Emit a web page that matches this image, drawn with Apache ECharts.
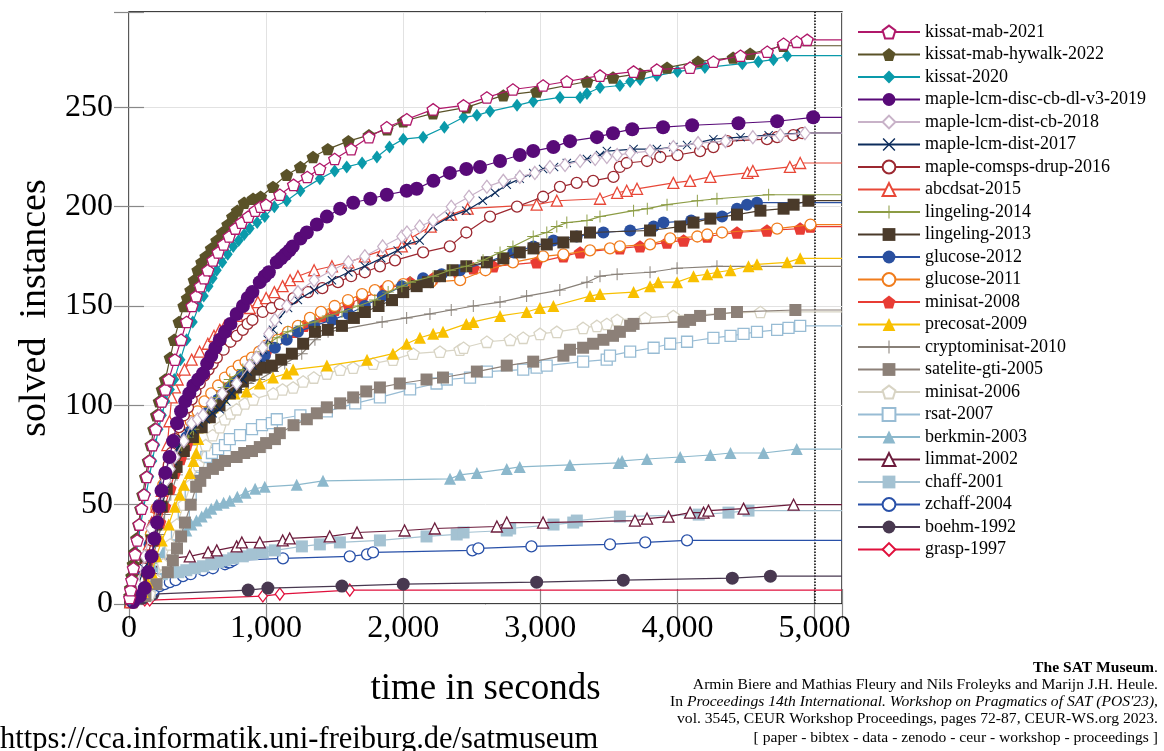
<!DOCTYPE html>
<html>
<head>
<meta charset="utf-8">
<title>SAT Museum</title>
<script src="https://cdn.jsdelivr.net/npm/echarts@6/dist/echarts.min.js"></script>
<style>
  html, body { margin: 0; padding: 0; background: #fff; }
  #chart { width: 1164px; height: 751px; }
</style>
</head>
<body>
<div id="chart"></div>
<script>
// [time in seconds, solved instances]
var kissatMab2021 = [[5,3],[12,7],[20,12],[32,18],[45,25],[60,32],[75,40],[92,48],[110,55],[130,64],[150,72],[172,80],[195,88],[218,95],[240,102],[265,108],[290,113],[335,123],[380,133],[420,142],[460,150],[490,155],[520,160],[548,164],[575,168],[612,173],[650,177],[690,181],[730,185],[775,189],[820,192],[870,195],[920,198],[960,200],[1000,201],[1100,206],[1200,211],[1300,215],[1391,219],[1500,224],[1620,229],[1750,235],[1880,240],[2026,244],[2218,249],[2440,251],[2610,255],[2800,259],[3020,261],[3193,263],[3435,266],[3680,268],[3850,269],[4092,270],[4262,273],[4460,276],[4655,278],[4774,282],[4870,283],[4946,284]];
var kissatMabHywalk2022 = [[5,4],[10,8],[20,14],[30,20],[40,26],[55,33],[70,40],[85,48],[100,55],[120,64],[140,72],[160,80],[180,88],[200,95],[220,102],[242,108],[265,113],[300,124],[330,133],[365,142],[400,150],[425,154],[450,158],[475,163],[502,168],[530,172],[560,175],[600,179],[640,183],[680,187],[720,191],[755,195],[790,198],[840,202],[905,204],[960,205],[1050,210],[1150,216],[1250,220],[1342,225],[1450,229],[1600,233],[1750,236],[1882,239],[2000,243],[2217,247],[2460,250],[2730,256],[2973,258],[3340,263],[3530,265],[3727,267],[3924,270],[4150,273],[4406,275],[4530,277],[4771,281]];
var kissat2020 = [[5,2],[15,7],[25,12],[37,18],[50,24],[67,32],[85,40],[105,48],[125,55],[148,64],[170,72],[192,80],[215,88],[240,95],[265,102],[298,108],[330,113],[375,123],[420,133],[465,142],[510,150],[545,155],[580,160],[610,164],[640,168],[680,172],[720,176],[760,180],[800,183],[840,186],[880,189],[935,192],[990,195],[1060,200],[1150,203],[1250,208],[1392,214],[1500,218],[1588,220],[1700,222],[1808,225],[1900,230],[2000,234],[2145,235],[2300,240],[2440,245],[2537,246],[2633,248],[2830,251],[2948,253],[3143,255],[3290,255],[3340,257],[3435,260],[3580,261],[3655,263],[3728,264],[3850,266],[4000,268],[4200,270],[4473,272],[4590,273],[4700,274],[4800,276]];
var mapleLcmDiscCbDlV3_2019 = [[30,1],[80,4],[115,8],[140,16],[165,24],[185,33],[205,41],[220,49],[237,57],[265,66],[295,74],[322,82],[350,91],[380,97],[410,102],[440,106],[470,110],[505,113],[540,116],[570,121],[600,125],[630,129],[662,133],[700,137],[740,141],[785,146],[831,150],[866,154],[900,157],[954,162],[990,165],[1020,167],[1078,172],[1110,174],[1140,176],[1170,178],[1194,180],[1250,184],[1297,187],[1370,191],[1443,195],[1540,199],[1635,202],[1760,204],[1880,206],[2025,208],[2098,209],[2220,213],[2340,217],[2460,219],[2560,220],[2706,223],[2850,226],[2948,228],[3095,230],[3216,233],[3413,235],[3530,237],[3670,239],[3895,240],[4107,241],[4445,242],[4727,243],[4990,245]];
var mapleLcmDistCb2018 = [[10,2],[60,10],[115,24],[160,38],[210,49],[240,56],[270,62],[300,68],[334,74],[400,82],[457,91],[500,93],[540,95],[600,101],[680,106],[785,111],[880,120],[930,124],[975,129],[1020,136],[1064,143],[1150,150],[1232,157],[1350,163],[1480,168],[1600,172],[1720,175],[1850,180],[1990,185],[2027,187],[2120,190],[2218,193],[2350,200],[2480,205],[2610,210],[2730,213],[2850,215],[2960,217],[3070,220],[3180,221],[3290,223],[3400,224],[3485,225],[3560,226],[3655,227],[3800,228],[3970,230],[4150,232],[4350,233],[4550,235],[4750,236],[4930,237]];
var mapleLcmDist2017 = [[10,2],[60,8],[110,18],[166,24],[190,32],[215,40],[240,49],[261,57],[290,65],[320,72],[350,78],[385,83],[430,86],[466,88],[510,91],[560,93],[610,96],[662,98],[710,102],[750,106],[790,110],[830,113],[865,117],[900,120],[940,124],[975,128],[1012,133],[1050,138],[1085,143],[1160,149],[1232,153],[1350,158],[1480,163],[1600,167],[1720,170],[1840,174],[1960,178],[2027,181],[2120,183],[2218,190],[2340,195],[2460,198],[2580,203],[2670,207],[2755,211],[2850,214],[2948,217],[3020,219],[3100,220],[3193,222],[3340,224],[3435,226],[3485,228],[3680,229],[3850,229],[3970,230],[4070,231],[4262,234],[4460,235],[4665,236],[4900,237]];
var mapleComspsDrup2016 = [[10,2],[40,7],[70,12],[105,18],[137,24],[165,32],[190,40],[215,48],[239,57],[265,64],[290,70],[310,76],[334,83],[365,89],[400,95],[430,99],[457,103],[485,107],[516,111],[548,115],[580,118],[610,121],[640,124],[690,128],[740,132],[785,135],[830,138],[865,141],[900,143],[975,147],[1040,149],[1100,151],[1200,154],[1305,157],[1410,159],[1524,162],[1620,165],[1720,167],[1830,170],[1940,173],[2145,177],[2340,180],[2460,187],[2633,195],[2830,200],[3020,205],[3143,210],[3265,212],[3385,213],[3533,215],[3580,220],[3630,222],[3778,223],[3875,225],[4000,226],[4165,228],[4262,230],[4363,233],[4653,234],[4727,235],[4845,236],[4910,237]];
var abcdsat2015 = [[10,1],[70,8],[120,20],[145,30],[166,41],[200,49],[239,57],[260,68],[280,80],[295,92],[311,104],[335,109],[355,113],[405,118],[457,123],[515,127],[575,131],[620,135],[662,138],[699,140],[790,145],[881,149],[940,152],[1000,154],[1060,157],[1120,160],[1175,163],[1232,165],[1350,168],[1480,170],[1600,172],[1720,175],[1850,178],[1990,180],[2050,184],[2200,190],[2350,196],[2470,199],[2973,201],[3120,203],[3435,204],[3560,207],[3630,208],[3705,209],[3970,212],[4092,213],[4240,215],[4510,217],[4550,218],[4820,220],[4895,222]];
var lingeling2014 = [[10,2],[60,10],[90,17],[120,25],[160,35],[185,42],[210,49],[245,58],[283,66],[330,73],[385,80],[430,84],[470,88],[540,94],[590,99],[640,104],[690,109],[735,113],[830,118],[906,123],[960,127],[1012,131],[1080,134],[1158,137],[1250,140],[1356,142],[1450,145],[1553,147],[1670,150],[1793,153],[1890,157],[1990,160],[2050,162],[2218,165],[2340,168],[2460,170],[2582,173],[2706,177],[2800,180],[2948,185],[3047,187],[3120,190],[3193,192],[3340,193],[3435,195],[3680,198],[3780,199],[3924,201],[4145,203],[4288,204],[4665,206]];
var lingeling2013 = [[10,1],[80,10],[120,20],[166,32],[200,40],[239,49],[275,58],[311,66],[347,69],[400,77],[466,84],[530,89],[589,94],[660,100],[735,106],[780,109],[830,112],[880,115],[930,118],[990,119],[1042,120],[1110,123],[1188,126],[1270,131],[1356,137],[1450,138],[1553,140],[1640,144],[1720,147],[1820,150],[1918,153],[2000,157],[2098,160],[2180,162],[2268,165],[2360,168],[2460,170],[2610,172],[2730,174],[2850,177],[2950,179],[3047,181],[3168,182],[3260,185],[3362,187],[3800,188],[4020,190],[4117,192],[4240,194],[4434,196],[4605,198],[4774,199],[4847,201],[4955,203]];
var glucose2012 = [[10,1],[60,8],[90,14],[120,20],[150,30],[180,40],[220,50],[260,60],[300,68],[340,75],[380,80],[418,84],[450,87],[480,90],[520,93],[564,96],[610,100],[650,103],[690,106],[735,109],[780,112],[820,115],[865,117],[906,119],[950,122],[990,125],[1064,129],[1150,133],[1232,137],[1350,140],[1480,143],[1600,146],[1720,150],[1850,155],[1990,160],[2145,164],[2280,166],[2414,168],[2610,172],[2803,177],[2950,180],[3095,183],[3265,185],[3460,187],[3655,188],[3826,190],[3898,192],[4100,193],[4325,195],[4434,199],[4507,201],[4580,202]];
var glucose2011 = [[10,1],[60,8],[90,15],[120,22],[160,35],[200,48],[250,60],[300,70],[350,79],[400,86],[450,92],[500,97],[550,102],[600,106],[650,110],[700,114],[750,117],[800,120],[850,122],[897,124],[950,127],[1000,130],[1085,133],[1160,137],[1232,140],[1320,144],[1400,147],[1500,150],[1597,153],[1700,156],[1793,158],[1890,160],[2000,161],[2200,162],[2415,163],[2600,168],[2800,172],[3020,175],[3168,176],[3362,178],[3508,179],[3580,180],[3800,181],[3947,184],[4145,185],[4217,186],[4325,187],[4727,189],[4970,191]];
var minisat2008 = [[10,1],[80,10],[140,22],[189,32],[225,41],[261,49],[300,58],[334,66],[375,73],[420,80],[470,86],[520,92],[570,97],[620,102],[670,106],[720,110],[770,113],[820,116],[885,120],[950,124],[1000,127],[1050,130],[1120,134],[1200,137],[1275,140],[1350,142],[1420,145],[1500,148],[1600,151],[1700,154],[1850,158],[2050,162],[2218,164],[2400,167],[2511,169],[2657,170],[2973,172],[3168,175],[3290,177],[3580,179],[3727,180],[3924,182],[4045,183],[4217,185],[4434,187],[4653,188],[4895,189],[4970,190]];
var precosat2009 = [[20,1],[100,6],[135,11],[166,16],[200,24],[239,32],[290,40],[334,49],[370,55],[400,60],[443,66],[470,72],[490,76],[505,83],[516,89],[560,94],[612,99],[684,104],[770,106],[857,107],[954,111],[1050,114],[1150,116],[1197,118],[1443,120],[1736,123],[1925,126],[2025,131],[2122,134],[2218,136],[2290,137],[2460,141],[2511,142],[2706,145],[2900,147],[2997,149],[3095,150],[3362,155],[3435,156],[3680,157],[3800,160],[3860,162],[3997,162],[4117,165],[4217,166],[4290,167],[4387,168],[4518,170],[4580,171],[4800,172],[4895,174]];
var cryptominisat2010 = [[20,1],[100,8],[140,16],[180,25],[220,35],[260,45],[305,55],[350,65],[400,73],[450,80],[500,86],[550,92],[600,96],[650,100],[720,104],[800,108],[870,111],[950,113],[1050,117],[1136,121],[1260,126],[1356,133],[1452,137],[1846,142],[2025,144],[2195,146],[2350,148],[2511,150],[2706,152],[2900,155],[3142,158],[3340,162],[3435,165],[3560,166],[3800,167],[3997,169],[4288,170]];
var sateliteGti2005 = [[20,1],[120,4],[200,10],[283,16],[320,22],[350,28],[380,34],[408,41],[450,50],[490,59],[520,62],[554,66],[612,68],[650,70],[700,72],[785,74],[840,76],[897,77],[954,79],[1000,81],[1064,83],[1100,86],[1200,90],[1297,93],[1370,96],[1443,99],[1540,101],[1635,104],[1730,107],[1830,109],[1975,111],[2170,113],[2290,114],[2537,117],[2755,120],[2948,122],[3168,125],[3216,128],[3312,129],[3385,131],[3460,133],[3530,135],[3580,137],[3655,140],[3680,141],[4045,142],[4092,143],[4165,145],[4310,146],[4434,147],[4860,148]];
var minisat2006 = [[20,1],[150,5],[200,12],[250,20],[300,30],[350,40],[400,50],[450,60],[505,70],[560,80],[610,85],[662,89],[700,93],[740,96],[785,98],[845,101],[906,103],[1052,106],[1120,108],[1197,109],[1270,112],[1348,114],[1443,116],[1540,118],[1635,119],[1780,121],[1925,123],[2073,126],[2268,127],[2414,128],[2440,129],[2610,132],[2780,133],[2875,134],[2997,136],[3120,137],[3312,139],[3413,140],[3485,141],[3560,143],[3765,144],[3970,145],[4605,147]];
var rsat2007 = [[20,1],[150,6],[200,12],[250,18],[300,26],[350,35],[400,45],[450,55],[490,62],[531,69],[564,74],[605,76],[650,78],[700,80],[735,83],[810,85],[897,88],[970,90],[1042,91],[1078,93],[1250,95],[1443,97],[1650,101],[1830,104],[2050,108],[2243,111],[2318,113],[2487,114],[2610,117],[2875,118],[2973,119],[3046,120],[3312,122],[3484,123],[3508,125],[3655,127],[3826,129],[3947,131],[4070,132],[4262,134],[4387,135],[4482,136],[4580,137],[4727,138],[4810,139],[4895,140]];
var berkmin2003 = [[10,1],[60,6],[102,12],[140,16],[175,19],[210,23],[249,26],[285,29],[322,32],[370,35],[418,37],[455,40],[492,42],[530,44],[564,46],[600,48],[640,50],[690,51],[735,52],[790,54],[850,56],[920,58],[990,59],[1223,60],[1415,62],[2341,63],[2414,65],[2537,66],[2755,68],[2850,69],[3216,70],[3570,71],[3596,72],[3778,73],[4020,74],[4240,75],[4387,76],[4628,76],[4870,78]];
var limmat2002 = [[10,1],[50,5],[100,10],[140,12],[175,14],[200,16],[224,18],[250,20],[270,21],[298,23],[443,24],[577,26],[640,27],[785,29],[823,31],[954,31],[1121,32],[1172,33],[1464,34],[1663,36],[2010,37],[2230,38],[2683,39],[2755,41],[3020,41],[3690,42],[3778,43],[3935,44],[4092,46],[4190,46],[4226,47],[4482,48],[4847,50]];
var chaff2001 = [[10,1],[50,4],[102,9],[140,11],[175,13],[240,15],[298,16],[360,16],[418,17],[480,18],[540,19],[600,20],[650,21],[700,22],[760,23],[830,24],[900,25],[976,26],[1064,27],[1261,29],[1392,30],[1538,31],[1830,32],[2170,34],[2390,35],[2440,36],[2755,37],[2780,38],[3096,40],[3240,41],[3266,42],[3580,44],[4155,45],[4372,46],[4518,47]];
var zchaff2004 = [[10,1],[60,3],[120,5],[150,6],[180,7],[224,9],[260,10],[298,11],[340,12],[394,14],[450,15],[540,17],[612,18],[700,20],[720,21],[735,21],[760,22],[1123,23],[1610,24],[1736,25],[1780,26],[2504,27],[2548,28],[2935,29],[3508,30],[3765,31],[4070,32]];
var boehm1992 = [[20,1],[100,3],[175,5],[869,7],[1013,8],[1553,9],[2000,10],[2973,11],[3605,12],[4400,13],[4678,14]];
var grasp1997 = [[40,1],[115,2],[151,2],[976,4],[1100,5],[1610,7]];

var xTicks = [0, 1000, 2000, 3000, 4000, 5000];
var yTicks = [0, 50, 100, 150, 200, 250];
var X_MAX = 5200;
var Y_MAX = 298;
var TIME_LIMIT = 5000;

var SERIF = '"Liberation Serif", "DejaVu Serif", serif';
var PENTAGON = 'path://M10,0L19.51,6.91L15.88,18.09L4.12,18.09L0.49,6.91Z';
var PLUS = 'path://M9.2,0H10.8V9.2H20V10.8H10.8V20H9.2V10.8H0V9.2H9.2Z';
var CROSS = 'path://M1.6,0L10,8.4L18.4,0L20,1.6L11.6,10L20,18.4L18.4,20L10,11.6L1.6,20L0,18.4L8.4,10L0,1.6Z';

// legend order, colour, marker
var solvers = [
  { name: 'kissat-mab-2021', data: kissatMab2021, color: '#b0186a', symbol: PENTAGON, size: 12, open: true },
  { name: 'kissat-mab-hywalk-2022', data: kissatMabHywalk2022, color: '#5a5228', symbol: PENTAGON, size: 13 },
  { name: 'kissat-2020', data: kissat2020, color: '#0a9aaa', symbol: 'diamond', size: [10, 13] },
  { name: 'maple-lcm-disc-cb-dl-v3-2019', data: mapleLcmDiscCbDlV3_2019, color: '#580a78', symbol: 'circle', size: 14 },
  { name: 'maple-lcm-dist-cb-2018', data: mapleLcmDistCb2018, color: '#c8b2c8', symbol: 'diamond', size: [10, 13], open: true },
  { name: 'maple-lcm-dist-2017', data: mapleLcmDist2017, color: '#0c2c5c', symbol: CROSS, size: 9 },
  { name: 'maple-comsps-drup-2016', data: mapleComspsDrup2016, color: '#9c2830', symbol: 'circle', size: 11, open: true },
  { name: 'abcdsat-2015', data: abcdsat2015, color: '#e84838', symbol: 'triangle', size: 11, open: true },
  { name: 'lingeling-2014', data: lingeling2014, color: '#8c9c44', symbol: PLUS, size: 12 },
  { name: 'lingeling-2013', data: lingeling2013, color: '#4a3a2a', symbol: 'rect', size: 12 },
  { name: 'glucose-2012', data: glucose2012, color: '#2a50a0', symbol: 'circle', size: 12 },
  { name: 'glucose-2011', data: glucose2011, color: '#f07c1c', symbol: 'circle', size: 11, open: true },
  { name: 'minisat-2008', data: minisat2008, color: '#e83c34', symbol: PENTAGON, size: 13 },
  { name: 'precosat-2009', data: precosat2009, color: '#f8c000', symbol: 'triangle', size: 12 },
  { name: 'cryptominisat-2010', data: cryptominisat2010, color: '#888078', symbol: PLUS, size: 12 },
  { name: 'satelite-gti-2005', data: sateliteGti2005, color: '#8c8078', symbol: 'rect', size: 12 },
  { name: 'minisat-2006', data: minisat2006, color: '#d8d4c4', symbol: PENTAGON, size: 12, open: true },
  { name: 'rsat-2007', data: rsat2007, color: '#98bcd4', symbol: 'rect', size: 11, open: true },
  { name: 'berkmin-2003', data: berkmin2003, color: '#8cb8cc', symbol: 'triangle', size: 12 },
  { name: 'limmat-2002', data: limmat2002, color: '#6c1c3c', symbol: 'triangle', size: 11, open: true },
  { name: 'chaff-2001', data: chaff2001, color: '#a4c2d2', symbol: 'rect', size: 12 },
  { name: 'zchaff-2004', data: zchaff2004, color: '#2850a8', symbol: 'circle', size: 11, open: true },
  { name: 'boehm-1992', data: boehm1992, color: '#483850', symbol: 'circle', size: 13 },
  { name: 'grasp-1997', data: grasp1997, color: '#e0103c', symbol: 'diamond', size: [9, 12], open: true }
];

var series = solvers.map(function (s, i) {
  var last = s.data[s.data.length - 1][1];
  // the curve stays flat up to the right edge
  var points = s.data.concat([{ value: [X_MAX, last], symbol: 'none' }]);
  return {
    name: s.name,
    type: 'line',
    data: points,
    z: 40 - i,
    symbol: s.symbol,
    symbolSize: s.size,
    symbolKeepAspect: true,
    lineStyle: { color: s.color, width: 1.2 },
    itemStyle: s.open
      ? { color: '#fff', borderColor: s.color, borderWidth: 1.3 }
      : { color: s.color, borderWidth: 0 },
    emphasis: { disabled: true }
  };
});

series[0].markLine = {
  silent: true,
  symbol: ['none', 'none'],
  label: { show: false },
  lineStyle: { color: '#000', type: 'dotted', width: 1.5 },
  data: [{ xAxis: TIME_LIMIT }]
};

function thousands(v) {
  return String(v).replace(/\B(?=(\d{3})+(?!\d))/g, ',');
}

var tickStyle = { show: true, inside: true, length: 15, lineStyle: { color: '#888', width: 1.2 } };

var option = {
  animation: false,
  backgroundColor: '#fff',
  grid: {
    left: 129, right: 322, top: 12, bottom: 147,
    show: true, borderColor: '#000', borderWidth: 1.3, backgroundColor: 'transparent'
  },
  legend: {
    orient: 'vertical',
    left: 857,
    top: 23,
    padding: 0,
    itemWidth: 62,
    itemHeight: 16,
    itemGap: 4.5,
    textStyle: { fontFamily: SERIF, fontSize: 18, lineHeight: 16, color: '#000' },
    data: solvers.map(function (s) { return s.name; })
  },
  xAxis: [{
    type: 'value',
    min: 0, max: X_MAX, interval: 1000,
    name: 'time in seconds',
    nameLocation: 'middle',
    nameGap: 67,
    nameTextStyle: { fontFamily: SERIF, fontSize: 37, color: '#000' },
    axisLine: { show: false },
    axisTick: tickStyle,
    axisLabel: {
      margin: 9, fontFamily: SERIF, fontSize: 32, color: '#000',
      formatter: function (v) { return xTicks.indexOf(v) >= 0 ? thousands(v) : ''; }
    },
    splitLine: { show: true, lineStyle: { color: '#e2e2e2', width: 1 } }
  }, {
    type: 'value', position: 'top',
    min: 0, max: X_MAX, interval: 1000,
    axisLine: { show: false }, axisTick: tickStyle,
    axisLabel: { show: false }, splitLine: { show: false }
  }],
  yAxis: [{
    type: 'value',
    min: 0, max: Y_MAX, interval: 50,
    name: 'solved  instances',
    nameLocation: 'middle',
    nameGap: 68,
    nameTextStyle: { fontFamily: SERIF, fontSize: 38, color: '#000' },
    axisLine: { show: false },
    axisTick: tickStyle,
    axisLabel: {
      margin: 16, fontFamily: SERIF, fontSize: 32, color: '#000',
      formatter: function (v) { return yTicks.indexOf(v) >= 0 ? String(v) : ''; }
    },
    splitLine: { show: true, lineStyle: { color: '#e2e2e2', width: 1 } }
  }, {
    type: 'value', position: 'right',
    min: 0, max: Y_MAX, interval: 50,
    axisLine: { show: false }, axisTick: tickStyle,
    axisLabel: { show: false }, splitLine: { show: false }
  }],
  graphic: [
    { type: 'text', left: 0, top: 724,
      style: { text: 'https://cca.informatik.uni-freiburg.de/satmuseum', font: '30.5px ' + SERIF, fill: '#000' } },
    { type: 'text', right: 6, top: 660,
      style: { text: '{b|The SAT Museum}.', font: '15.6px ' + SERIF, fill: '#000',
        rich: { b: { fontWeight: 'bold', fontSize: 15.6, fontFamily: SERIF } } } },
    { type: 'text', right: 6, top: 677,
      style: { text: 'Armin Biere and Mathias Fleury and Nils Froleyks and Marijn J.H. Heule.', font: '15.6px ' + SERIF, fill: '#000' } },
    { type: 'text', right: 6, top: 694,
      style: { text: 'In {i|Proceedings 14th International. Workshop on Pragmatics of SAT (POS\'23)},', font: '15.6px ' + SERIF, fill: '#000',
        rich: { i: { fontStyle: 'italic', fontSize: 15.6, fontFamily: SERIF } } } },
    { type: 'text', right: 6, top: 711,
      style: { text: 'vol. 3545, CEUR Workshop Proceedings, pages 72-87, CEUR-WS.org 2023.', font: '15.6px ' + SERIF, fill: '#000' } },
    { type: 'text', right: 6, top: 730,
      style: { text: '[ paper - bibtex - data - zenodo - ceur - workshop - proceedings ]', font: '15.6px ' + SERIF, fill: '#000' } }
  ],
  series: series
};

var myChart = echarts.init(document.getElementById('chart'));
myChart.setOption(option);
</script>
</body>
</html>
